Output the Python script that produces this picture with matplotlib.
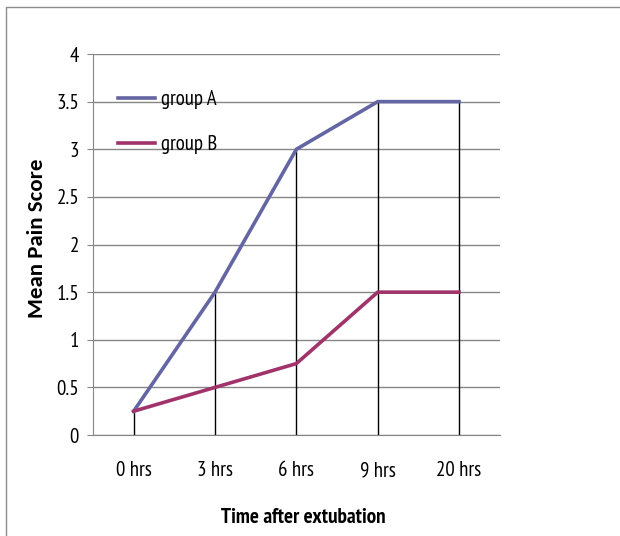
import matplotlib.pyplot as plt
from matplotlib.patches import Rectangle
import numpy as np

times = ['0 hrs', '3 hrs', '6 hrs', '9 hrs', '20 hrs']
group_a = [0.25, 1.5, 3.0, 3.5, 3.5]
group_b = [0.25, 0.5, 0.75, 1.5, 1.5]

plt.rcParams['font.family'] = ['PT Sans Narrow', 'DejaVu Sans']

fig = plt.figure(figsize=(6.2, 5.36), dpi=100)
ax = fig.add_axes([0.15, 0.1884, 0.656, 0.7108])

x = np.arange(len(times))
gray = '#868686'

# drop lines from the higher series
ax.vlines(x, 0, group_a, colors='black', linewidth=1, zorder=2)
ax.plot(x, group_a, color='#6465a3', linewidth=2.6, label='group A', zorder=3)
ax.plot(x, group_b, color='#a0336a', linewidth=2.6, label='group B', zorder=3)

ax.set_xlim(-0.5, 4.5)
ax.set_ylim(0, 4)
ax.set_yticks(np.arange(0, 4.01, 0.5))
ax.set_yticklabels(['0', '0.5', '1', '1.5', '2', '2.5', '3', '3.5', '4'])
ax.set_xticks(x)
ax.set_xticklabels(times)
ax.yaxis.grid(True, color=gray, linewidth=1)
ax.set_axisbelow(True)
for s in ['top', 'right']:
    ax.spines[s].set_visible(False)
ax.spines['left'].set_color(gray)
ax.spines['bottom'].set_color(gray)
ax.tick_params(axis='y', length=4, color=gray, labelsize=15, pad=6)
ax.tick_params(axis='x', length=0, labelsize=15, pad=19)

ax.set_ylabel('Mean Pain Score', fontsize=16.5, fontweight='bold', family='Carlito')
ax.yaxis.set_label_coords(-0.113, 0.517)
ax.set_xlabel('Time after extubation', fontsize=15.3, fontweight='bold')
ax.xaxis.set_label_coords(0.516, -0.192)

leg = ax.legend(loc='upper left', bbox_to_anchor=(0.061, 0.905), frameon=False,
                borderpad=0, borderaxespad=0, fontsize=15, labelspacing=1.25,
                handlelength=1.8, handletextpad=0.25)

fig.patches.append(Rectangle((6 / 620, -0.02), 1.0, 1 - 7 / 536 + 0.02,
                             transform=fig.transFigure, fill=False,
                             edgecolor='#8c8c8c', linewidth=1))

fig.savefig('out.png', dpi=100)
